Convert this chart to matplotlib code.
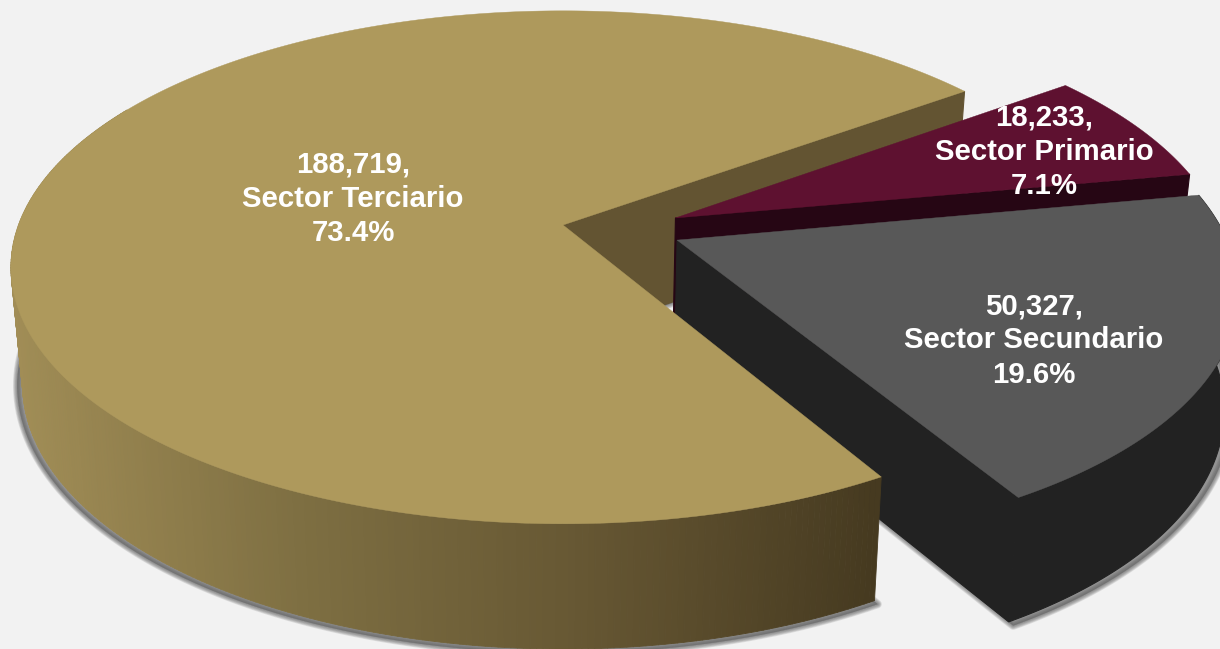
import numpy as np
import matplotlib
matplotlib.use("Agg")
import matplotlib.pyplot as plt
from matplotlib.collections import PolyCollection
from matplotlib.colors import LinearSegmentedColormap

# ---- data (clockwise from the first slice) ----
sectors = ["Sector Primario", "Sector Secundario", "Sector Terciario"]
workers = [18233, 50327, 188719]

# ---- styles ----
BG = "#f2f2f2"
top_colors = ["#5e1130", "#585858", "#ae995c"]
side_colors = ["#260614", "#222222", "#635432"]
START_ANGLE = 36.0
offsets = [(0.2075, 0.0284), (0.2075, -0.06), (0.0, 0.0)]
label_xy = [(1044, 152), (1034, 340.5), (353, 199)]
front_cmap = LinearSegmentedColormap.from_list(
    "front", [(0, "#a18d56"), (0.33, "#7e6f42"), (0.66, "#665733"), (1, "#463a20")])

CX, K = 563.0, 0.165


def project(u, v, level="top", grow=1.0):
    """Perspective view of the unit disc, on the top or bottom plane."""
    w = 1 + K * v
    if level == "top":
        return CX + 544.5 * u / w, 225 - 249.5 * v / w
    return CX + 533 * grow * u / w, 340.4 - 257.7 * grow * v / w


def rim(a0, a1, off, level="top", grow=1.0, n=200):
    t = np.radians(np.linspace(a0, a1, n))
    return project(off[0] + np.cos(t), off[1] + np.sin(t), level, grow)


fig = plt.figure(figsize=(12.2, 6.49), dpi=100, facecolor=BG)
ax = fig.add_axes([0, 0, 1, 1])
ax.set_xlim(0, 1220)
ax.set_ylim(649, 0)
ax.axis("off")

total = sum(workers)
spans = [w / total * 360 for w in workers]
ends = START_ANGLE - np.cumsum(spans)
starts = np.r_[START_ANGLE, ends[:-1]]


def shadow(a_hi, a_lo, off):
    x, y = rim(a_lo, a_hi, off, "bottom", 1.01)
    ax0, ay0 = project(off[0], off[1], "bottom")
    px = np.r_[ax0, x]
    py = np.r_[ay0, y] + 1
    for lw in (6, 5, 4, 3, 2, 1):
        ax.fill(px, py, fc="#666666", ec="#666666", lw=lw, alpha=0.17, joinstyle="round", zorder=2)


def cut_wall(angle, off, color, z):
    t = np.radians(angle)
    tx, ty = project(off[0] + np.cos(t), off[1] + np.sin(t))
    bx, by = project(off[0] + np.cos(t), off[1] + np.sin(t), "bottom")
    ax0, ay0 = project(off[0], off[1])
    bx0, by0 = project(off[0], off[1], "bottom")
    ax.fill([ax0, tx, bx, bx0], [ay0, ty, by, by0], fc=color, ec=color, lw=0.8, zorder=z)


def rim_wall(a0, a1, off, color, z):
    tx, ty = rim(a0, a1, off)
    bx, by = rim(a1, a0, off, "bottom")
    ax.fill(np.r_[tx, bx], np.r_[ty, by], fc=color, ec=color, lw=0.8, zorder=z)


def top_face(a_hi, a_lo, off, color, z):
    x, y = rim(a_hi, a_lo, off, n=400)
    ax0, ay0 = project(off[0], off[1])
    ax.fill(np.r_[ax0, x], np.r_[ay0, y], fc=color, ec=color, lw=0.3, zorder=z)


# Primario
cut_wall(ends[0], offsets[0], side_colors[0], 4)
top_face(starts[0], ends[0], offsets[0], top_colors[0], 5)

# Shadows
shadow(starts[1], ends[1], offsets[1])
shadow(starts[2], ends[2], offsets[2])

# Terciario cut wall, behind everything on the right
cut_wall(ends[2], offsets[2], side_colors[2], 3)

# Secundario
cut_wall(ends[1], offsets[1], side_colors[1], 6)
rim_wall(ends[1], starts[1], offsets[1], side_colors[1], 6)
top_face(starts[1], ends[1], offsets[1], top_colors[1], 7)

# Terciario front wall, drawn as narrow facets shaded along x
angles = np.linspace(starts[2] - 150, starts[2], 260)
quads, shades = [], []
for a0, a1 in zip(angles[:-1], angles[1:]):
    t0x, t0y = rim(a0, a1, offsets[2], n=2)
    b1x, b1y = rim(a1, a0, offsets[2], "bottom", n=2)
    quads.append(np.c_[np.r_[t0x, b1x], np.r_[t0y, b1y]])
    shades.append((t0x.mean() - 11) / (878 - 11))
colors = front_cmap(np.clip(shades, 0, 1))
ax.add_collection(PolyCollection(quads, facecolors=colors, edgecolors=colors, linewidths=0.6, zorder=8))
top_face(starts[2], ends[2], offsets[2], top_colors[2], 9)

# Labels
for name, val, xy in zip(sectors, workers, label_xy):
    ax.text(xy[0], xy[1], f"{val:,},\n{name}\n{val / total * 100:.1f}%",
            ha="center", va="center", color="white", fontsize=21.2, fontweight="bold",
            family="Liberation Sans", linespacing=1.29, zorder=12)

fig.savefig("out.png", dpi=100, facecolor=BG)
